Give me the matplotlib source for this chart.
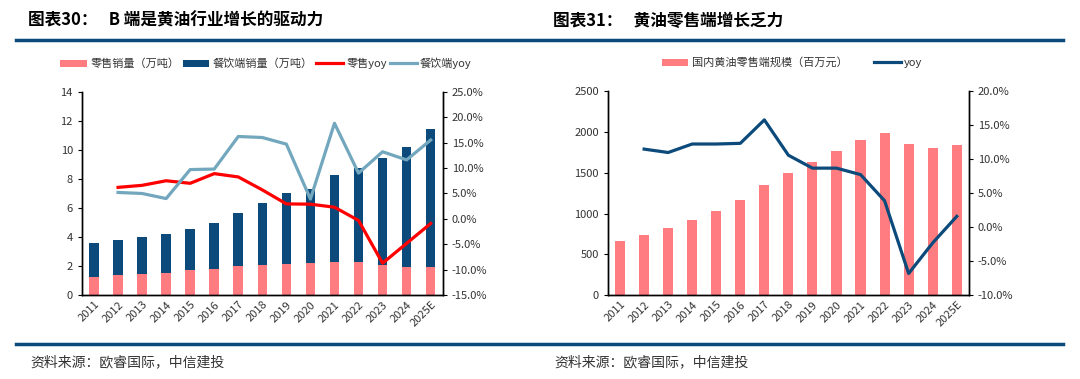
import numpy as np
import matplotlib
matplotlib.use('Agg')
import matplotlib.pyplot as plt
from matplotlib.ticker import FuncFormatter

plt.rcParams['font.family'] = ['Noto Sans CJK SC', 'DejaVu Sans']
plt.rcParams['axes.unicode_minus'] = False

# 데이터
years = ['2011', '2012', '2013', '2014', '2015', '2016', '2017', '2018',
         '2019', '2020', '2021', '2022', '2023', '2024', '2025E']

# 图表30
retail_vol = [1.28, 1.37, 1.47, 1.56, 1.72, 1.83, 2.02, 2.09, 2.15, 2.22,
              2.29, 2.29, 2.06, 1.97, 1.92]
total_vol = [3.60, 3.78, 3.99, 4.19, 4.54, 5.00, 5.66, 6.35, 7.01, 7.29,
             8.27, 8.78, 9.46, 10.17, 11.43]
food_vol = [t - r for t, r in zip(total_vol, retail_vol)]
retail_yoy = [np.nan, 6.2, 6.6, 7.5, 7.0, 8.9, 8.25, 5.7, 2.95, 2.9,
              2.3, -0.3, -8.7, -4.8, -0.9]
food_yoy = [np.nan, 5.2, 5.0, 4.0, 9.7, 9.8, 16.2, 16.0, 14.7, 3.9,
            18.8, 9.0, 13.2, 11.6, 15.5]

# 图表31
retail_size = [670, 743, 829, 927, 1038, 1164, 1352, 1499, 1634, 1773,
               1908, 1989, 1850, 1810, 1842]
size_yoy = [np.nan, 11.5, 11.0, 12.25, 12.25, 12.35, 15.8, 10.6, 8.7, 8.7,
            7.75, 3.9, -6.8, -2.3, 1.6]

PINK = '#FF7C80'
NAVY = '#0B4A7A'
RED = '#FF0000'
LBLUE = '#72A7BE'
TXT = '#333333'

fig = plt.figure(figsize=(10.8, 3.79), dpi=100)
x = np.arange(len(years))
pct = FuncFormatter(lambda v, p: f'{v:.1f}%')


def style_axes(ax, ax2):
    for a in (ax, ax2):
        a.spines['top'].set_visible(False)
        for s in ('left', 'right', 'bottom'):
            a.spines[s].set_color('black')
            a.spines[s].set_linewidth(1.0)
        a.tick_params(labelsize=8, colors=TXT, length=3)
        a.tick_params(axis='y', color='black')
    ax.tick_params(axis='x', length=0, pad=3)
    ax.set_xticks(x)
    ax.set_xticklabels(years, rotation=45, ha='right', rotation_mode='anchor')
    ax.set_xlim(-0.5, len(years) - 0.5)


# 左图
ax1 = fig.add_axes([0.0759, 0.221, 0.334, 0.537])
b1 = ax1.bar(x, retail_vol, width=0.4, color=PINK, label='零售销量（万吨）', zorder=2)
b2 = ax1.bar(x, food_vol, width=0.4, bottom=retail_vol, color=NAVY,
             label='餐饮端销量（万吨）', zorder=2)
ax1.set_ylim(0, 14)
ax1.set_yticks(range(0, 15, 2))
ax1r = ax1.twinx()
l1, = ax1r.plot(x, retail_yoy, color=RED, lw=2.3, label='零售yoy')
l2, = ax1r.plot(x, food_yoy, color=LBLUE, lw=2.3, label='餐饮端yoy')
ax1r.set_ylim(-15, 25)
ax1r.set_yticks(range(-15, 26, 5))
ax1r.yaxis.set_major_formatter(pct)
style_axes(ax1, ax1r)
ax1.legend([b1, b2, l1, l2], [h.get_label() for h in (b1, b2, l1, l2)],
           loc='center', bbox_to_anchor=(0.51, 1.14), ncol=4, frameon=False,
           fontsize=8, handlelength=2.4, handleheight=0.6, columnspacing=0.3,
           handletextpad=0.3, labelcolor=TXT)

# 右图
ax2 = fig.add_axes([0.563, 0.221, 0.334, 0.538])
b3 = ax2.bar(x, retail_size, width=0.42, color=PINK,
             label='国内黄油零售端规模（百万元）', zorder=2)
ax2.set_ylim(0, 2500)
ax2.set_yticks(range(0, 2501, 500))
ax2r = ax2.twinx()
l3, = ax2r.plot(x, size_yoy, color=NAVY, lw=2.3, label='yoy')
ax2r.set_ylim(-10, 20)
ax2r.set_yticks(range(-10, 21, 5))
ax2r.yaxis.set_major_formatter(pct)
style_axes(ax2, ax2r)
ax2.legend([b3, l3], [b3.get_label(), 'yoy'],
           loc='center', bbox_to_anchor=(0.51, 1.14), ncol=2, frameon=False,
           fontsize=8, handlelength=2.4, handleheight=0.6, columnspacing=2.4,
           handletextpad=0.3, labelcolor=TXT)

# 标题 / 来源
fig.text(0.026, 0.945, '图表30：   B 端是黄油行业增长的驱动力', fontsize=12,
         fontweight='bold', va='center', color='black')
fig.text(0.512, 0.945, '图表31：   黄油零售端增长乏力', fontsize=12,
         fontweight='bold', va='center', color='black')
fig.add_artist(plt.Line2D([0.015, 0.984], [0.895, 0.895], color=NAVY, lw=2.5,
                          transform=fig.transFigure))
fig.add_artist(plt.Line2D([0.015, 0.984], [0.092, 0.092], color=NAVY, lw=2.5,
                          transform=fig.transFigure))
fig.text(0.028, 0.045, '资料来源：欧睿国际，中信建投', fontsize=10,
         style='italic', va='center', color=TXT)
fig.text(0.513, 0.045, '资料来源：欧睿国际，中信建投', fontsize=10,
         style='italic', va='center', color=TXT)

fig.savefig('out.png', dpi=100)
